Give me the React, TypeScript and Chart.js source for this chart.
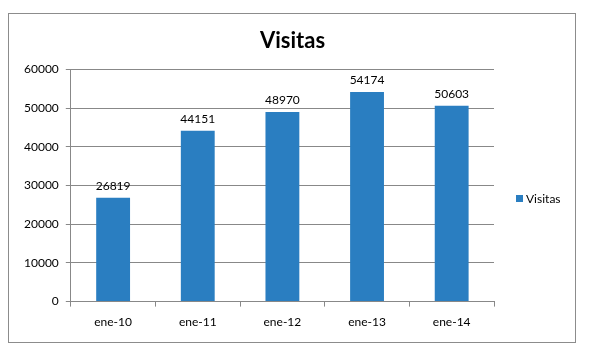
import React, { useEffect, useRef } from "react";
import { Chart, registerables } from "chart.js";

Chart.register(...registerables);

const chartTitle = "Visitas";
const categories = ["ene-10", "ene-11", "ene-12", "ene-13", "ene-14"];
const seriesName = "Visitas";
const visitas = [26819, 44151, 48970, 54174, 50603];
const yMin = 0;
const yMax = 60000;
const yStep = 10000;

const BAR = "#2A7EC1";
const GRID = "#888888";
const FONT = "Lato, 'Open Sans', sans-serif";

const framePlugin = {
  id: "frame",
  beforeDraw(chart: any) {
    const ctx = chart.ctx;
    ctx.save();
    ctx.fillStyle = "#ffffff";
    ctx.fillRect(0, 0, chart.width, chart.height);
    ctx.strokeStyle = "#8c8c8c";
    ctx.lineWidth = 1;
    ctx.strokeRect(8.5, 13.5, 567, 329);
    ctx.restore();
  },
};

const valueLabelPlugin = {
  id: "valueLabels",
  afterDatasetsDraw(chart: any) {
    const ctx = chart.ctx;
    ctx.save();
    ctx.font = `12px ${FONT}`;
    ctx.fillStyle = "#000000";
    ctx.textAlign = "center";
    ctx.textBaseline = "bottom";
    chart.data.datasets.forEach((ds: any, di: number) => {
      const meta = chart.getDatasetMeta(di);
      meta.data.forEach((el: any, i: number) => {
        ctx.fillText(String(ds.data[i]), el.x, el.y - 6);
      });
    });
    ctx.restore();
  },
};

const sideLegendPlugin = {
  id: "sideLegend",
  afterDraw(chart: any) {
    const ctx = chart.ctx;
    const ds = chart.data.datasets[0];
    ctx.save();
    ctx.fillStyle = ds.backgroundColor;
    ctx.fillRect(516, 195, 7, 7);
    ctx.font = `12px ${FONT}`;
    ctx.fillStyle = "#000000";
    ctx.textAlign = "left";
    ctx.textBaseline = "middle";
    ctx.fillText(ds.label, 526, 199);
    ctx.restore();
  },
};

export default function App() {
  const ref = useRef<HTMLCanvasElement | null>(null);

  useEffect(() => {
    if (!ref.current) return;
    const chart = new Chart(ref.current, {
      type: "bar",
      data: {
        labels: categories,
        datasets: [
          {
            label: seriesName,
            data: visitas,
            backgroundColor: BAR,
            borderWidth: 0,
            barPercentage: 0.4,
            categoryPercentage: 1,
            yAxisID: "y",
          },
        ],
      },
      options: {
        responsive: false,
        animation: false,
        devicePixelRatio: 1,
        layout: { padding: { top: 14, left: 17, right: 22, bottom: 19 } },
        plugins: {
          legend: { display: false },
          tooltip: { enabled: false },
          title: {
            display: true,
            text: chartTitle,
            color: "#000000",
            font: { family: FONT, size: 22, weight: "bold" },
            padding: { top: 14, bottom: 15 },
          },
        },
        scales: {
          x: {
            offset: true,
            grid: {
              display: true,
              drawOnChartArea: false,
              drawTicks: true,
              tickLength: 5,
              color: GRID,
              offset: true,
            },
            border: { display: true, color: GRID },
            ticks: {
              color: "#000000",
              font: { family: FONT, size: 12 },
              padding: 8,
            },
          },
          y: {
            min: yMin,
            max: yMax,
            grid: { color: GRID, tickLength: 5 },
            border: { display: true, color: GRID },
            ticks: {
              stepSize: yStep,
              color: "#000000",
              font: { family: FONT, size: 12 },
              padding: 7,
              callback: (v: any) => String(v),
            },
          },
          legendSpace: {
            type: "linear",
            position: "right",
            display: true,
            grid: { display: false, drawTicks: false },
            border: { display: false },
            ticks: { display: false },
            afterFit: (s: any) => {
              s.width = 74;
            },
          },
        },
      },
      plugins: [framePlugin, valueLabelPlugin, sideLegendPlugin],
    });
    return () => chart.destroy();
  }, []);

  return (
    <div style={{ position: "fixed", left: 0, top: 0, width: 590, height: 356 }}>
      <canvas ref={ref} width={590} height={356} />
    </div>
  );
}
